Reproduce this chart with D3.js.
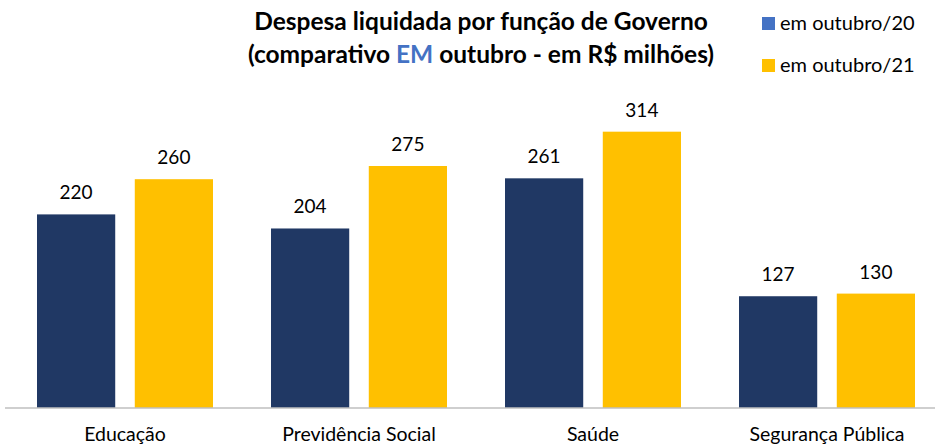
<!DOCTYPE html>
<html>
<head>
<meta charset="utf-8">
<script src="https://cdn.jsdelivr.net/npm/d3@7"></script>
<style>
  body { margin: 0; background: #fff; }
  text { font-family: Lato, "Open Sans", sans-serif; }
</style>
</head>
<body>
<div id="chart"></div>
<script>
// data
const categories = ['Educação', 'Previdência Social', 'Saúde', 'Segurança Pública'];
const series = ['em outubro/20', 'em outubro/21'];
const values20 = [220, 204, 261, 127];
const values21 = [260, 275, 314, 130];

const WIDTH = 935;
const HEIGHT = 446;
const colours = ['#203864', '#FFC000'];
const legendColours = ['#4472C4', '#FFC000'];

let svg = d3.select('#chart')
.append('svg')
.attr('width', WIDTH)
.attr('height', HEIGHT);

//scales
const x = d3.scaleBand().domain(categories).range([8, 944]).paddingInner(0).paddingOuter(0);
const inner = d3.scaleBand().domain(series).range([29, 205]).paddingInner(0.2);
const y = d3.scaleLinear().domain([0, 350]).range([408, 100]);

let rows = categories.map((c, i) => ({
    cat: c,
    vals: [values20[i], values21[i]]
}));

let groups = svg.selectAll('.grp')
.data(rows).enter()
.append('g')
.attr('transform', d => `translate(${x(d.cat)},0)`);

groups.selectAll('rect')
.data(d => d.vals.map((v, i) => ({ s: series[i], v: v, i: i })))
.enter()
.append('rect')
.attr('x', d => inner(d.s))
.attr('width', inner.bandwidth())
.attr('y', d => y(d.v))
.attr('height', d => y(0) - y(d.v))
.style('fill', d => colours[d.i]);

groups.selectAll('.lbl')
.data(d => d.vals.map((v, i) => ({ s: series[i], v: v })))
.enter()
.append('text')
.attr('x', d => inner(d.s) + inner.bandwidth() / 2)
.attr('y', d => y(d.v) - 15)
.attr('text-anchor', 'middle')
.style('font-size', '19px')
.style('fill', '#000')
.text(d => d.v);

//axis
const xAxis = svg.append('g')
.attr('transform', `translate(0,${y(0)})`)
.call(d3.axisBottom(x).tickSize(0).tickPadding(19));
xAxis.select('.domain').attr('d', 'M5,0H935').attr('stroke', '#bfbfbf').attr('stroke-width', 1.5);
xAxis.selectAll('text')
.style('font-size', '19.5px')
.style('font-family', 'Lato, "Open Sans", sans-serif')
.style('fill', '#000');

//title
const title = svg.append('text')
.attr('x', 481)
.attr('text-anchor', 'middle')
.style('font-size', '24.5px')
.style('font-weight', 'bold')
.style('fill', '#000');
title.append('tspan').attr('x', 481).attr('y', 30).text('Despesa liquidada por função de Governo');
const t2 = title.append('tspan').attr('x', 481).attr('y', 63);
t2.append('tspan').text('(comparativo ');
t2.append('tspan').style('fill', '#4472C4').text('EM');
t2.append('tspan').text(' outubro - em R$ milhões)');

//legend
let legend = svg.append('g')
.selectAll('g')
.data(series).enter()
.append('g')
.attr('transform', (d, i) => `translate(762,${17 + i * 42})`);

legend.append('rect')
.attr('width', 13)
.attr('height', 13)
.style('fill', (d, i) => legendColours[i]);

legend.append('text')
.attr('x', 18)
.attr('y', 13)
.style('font-size', '20px')
.style('fill', '#000')
.text(d => d);
</script>
</body>
</html>
